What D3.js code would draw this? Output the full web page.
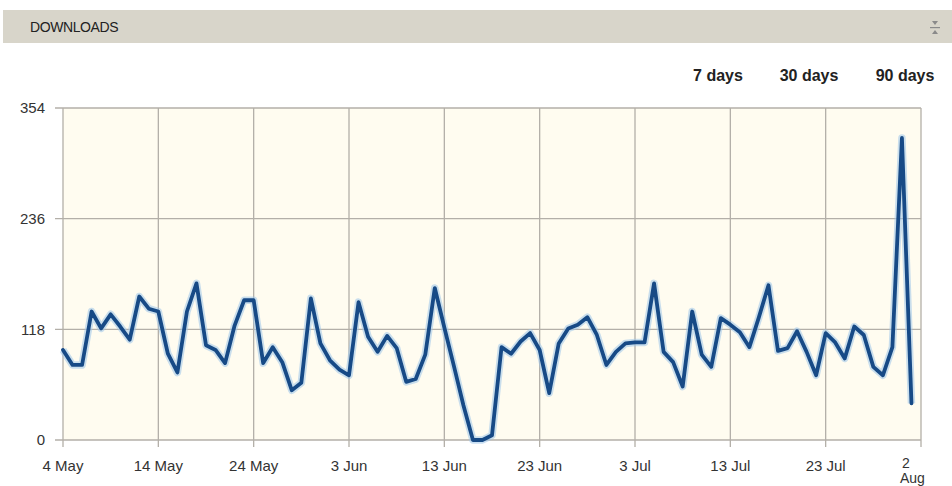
<!DOCTYPE html>
<html>
<head>
<meta charset="utf-8">
<script src="https://cdn.jsdelivr.net/npm/d3@7"></script>
<style>
  body { margin: 0; background: #fff; }
  svg { display: block; font-family: "Liberation Sans", Arial, sans-serif; }
</style>
</head>
<body>
<div id="chart"></div>
<script>
// daily downloads, 4 May .. 1 Aug
const startDay = "4 May 2012";
const downloads = [
  96, 80, 80, 137, 119, 134, 121, 107, 153, 140,
  137, 92, 72, 137, 167, 101, 96, 82, 122, 149,
  149, 82, 99, 83, 53, 61, 151, 103, 85, 75,
  69, 147, 110, 94, 111, 98, 62, 65, 91, 162,
  120, 79, 37, 0, 0, 5, 99, 92, 105, 114,
  96, 50, 103, 119, 123, 131, 112, 80, 94, 103,
  104, 104, 167, 94, 83, 57, 137, 91, 78, 130,
  123, 115, 99, 131, 165, 95, 98, 116, 94, 69,
  114, 104, 87, 121, 112, 78, 69, 99, 322, 39
];
const xTickLabels = ["4 May", "14 May", "24 May", "3 Jun", "13 Jun", "23 Jun", "3 Jul", "13 Jul", "23 Jul", "2 Aug"];
const yTicks = [0, 118, 236, 354];
const rangeButtons = ["7 days", "30 days", "90 days"];

const width = 952, height = 486;
const parse = d3.utcParse("%d %b %Y");
const t0 = parse(startDay);
const data = downloads.map((v, i) => ({ date: d3.utcDay.offset(t0, i), value: v }));
const tickDates = xTickLabels.map(s => parse(s + " 2012"));

const svg = d3.select("#chart").append("svg")
    .attr("width", width)
    .attr("height", height);

// title bar
svg.append("rect")
    .attr("x", 3).attr("y", 10)
    .attr("width", 949).attr("height", 33)
    .attr("fill", "#d8d5ca");
svg.append("text")
    .attr("x", 30).attr("y", 32)
    .attr("font-size", 14)
    .attr("letter-spacing", "-0.4px")
    .attr("fill", "#222")
    .text("DOWNLOADS");
// collapse icon
const icon = svg.append("g").attr("fill", "#8a8a8a");
icon.append("path").attr("d", "M932,21 L938,21 L935,25 Z");
icon.append("rect").attr("x", 930).attr("y", 27).attr("width", 10).attr("height", 1.2);
icon.append("path").attr("d", "M932,34 L938,34 L935,30 Z");

// range buttons
svg.selectAll(".range")
    .data(rangeButtons)
    .enter()
    .append("text")
    .attr("class", "range")
    .attr("x", (d, i) => [718, 809, 905][i])
    .attr("y", 81)
    .attr("text-anchor", "middle")
    .attr("font-size", 16)
    .attr("font-weight", "bold")
    .attr("fill", "#222")
    .text(d => d);

// scales
const x = d3.scaleUtc()
    .domain([tickDates[0], tickDates[tickDates.length - 1]])
    .range([63, 921]);
const y = d3.scaleLinear()
    .domain([0, 354])
    .range([440, 108]);

// plot background
svg.append("rect")
    .attr("x", 63).attr("y", 108)
    .attr("width", 921 - 63).attr("height", 440 - 108)
    .attr("fill", "#fffcf0");

// grid
svg.append("g")
    .selectAll("line")
    .data(tickDates)
    .enter()
    .append("line")
    .attr("x1", d => x(d)).attr("x2", d => x(d))
    .attr("y1", 108).attr("y2", 447)
    .attr("stroke", "#b3afa8")
    .attr("stroke-width", 1.3);
svg.append("g")
    .selectAll("line")
    .data(yTicks)
    .enter()
    .append("line")
    .attr("x1", 55).attr("x2", 921)
    .attr("y1", d => y(d)).attr("y2", d => y(d))
    .attr("stroke", "#b3afa8")
    .attr("stroke-width", 1.3);

// y labels
svg.append("g")
    .selectAll("text")
    .data(yTicks)
    .enter()
    .append("text")
    .attr("x", 45)
    .attr("y", d => y(d))
    .attr("dy", "0.35em")
    .attr("text-anchor", "end")
    .attr("font-size", 15)
    .attr("fill", "#333")
    .text(d => d);

// x labels (last one is wrapped on two lines)
const last = xTickLabels.length - 1;
svg.append("g")
    .selectAll("text")
    .data(xTickLabels.slice(0, last))
    .enter()
    .append("text")
    .attr("x", (d, i) => x(tickDates[i]))
    .attr("y", 471)
    .attr("text-anchor", "middle")
    .attr("font-size", 15)
    .attr("fill", "#333")
    .text(d => d);
xTickLabels[last].split(" ").forEach((part, j) => {
    svg.append("text")
        .attr("x", x(tickDates[last]) - (j === 0 ? 19 : 21))
        .attr("y", 468 + j * 15)
        .attr("font-size", 14)
        .attr("fill", "#333")
        .text(part);
});

// line
const line = d3.line()
    .x(d => x(d.date))
    .y(d => y(d.value));

svg.append("path")
    .datum(data)
    .attr("d", line)
    .attr("fill", "none")
    .attr("stroke", "#9cc4ea")
    .attr("stroke-opacity", 0.55)
    .attr("stroke-width", 7.5)
    .attr("stroke-linejoin", "round");
svg.append("path")
    .datum(data)
    .attr("d", line)
    .attr("fill", "none")
    .attr("stroke", "#174a86")
    .attr("stroke-width", 3.8)
    .attr("stroke-linejoin", "round")
    .attr("stroke-linecap", "round");
</script>
</body>
</html>
